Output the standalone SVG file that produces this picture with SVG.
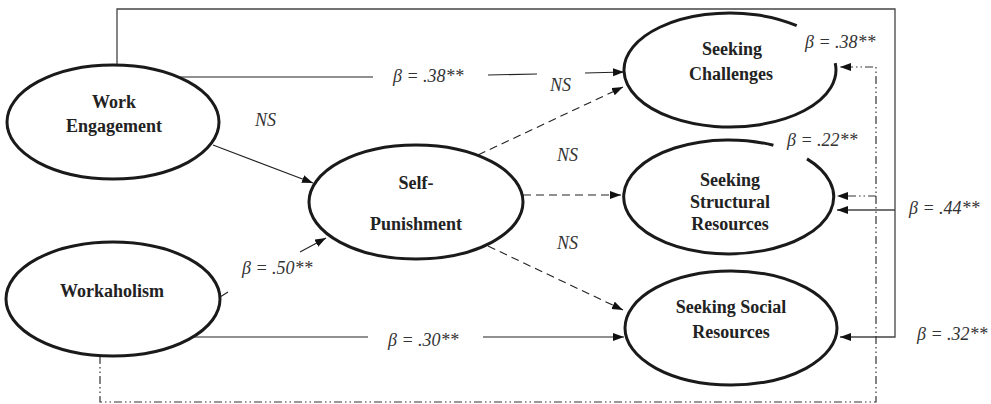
<svg xmlns="http://www.w3.org/2000/svg" width="991" height="404" viewBox="0 0 991 404">
<style>
.node{fill:none;stroke:#1a1a1a;stroke-width:3}
.nt{font-family:"Liberation Serif","Times New Roman",serif;font-weight:bold;font-size:18px;fill:#222;text-anchor:middle}
.lb{font-family:"Liberation Serif","Times New Roman",serif;font-style:italic;font-size:18px;fill:#333}
.ln{fill:none;stroke:#222;stroke-width:1.1}
.fr{fill:none;stroke:#444;stroke-width:1.3}
.da{fill:none;stroke:#222;stroke-width:1.1;stroke-dasharray:8 5}
.dd{fill:none;stroke:#333;stroke-width:1.2;stroke-dasharray:8 3 1.5 3 1.5 3}
</style>
<defs>
<marker id="ah" markerUnits="userSpaceOnUse" markerWidth="12" markerHeight="9" refX="11" refY="4" orient="auto">
<path d="M0,0 L11,4 L0,8 z" fill="#111"/>
</marker>
</defs>
<rect width="991" height="404" fill="#fff"/>
<g id="connectors">
<!-- Work Engagement to Seeking Challenges -->
<path class="ln" d="M180,77 L373,77"/>
<path class="ln" d="M488,75 L537,74"/>
<path class="ln" d="M585,73 L624,72" marker-end="url(#ah)"/>
<!-- Work Engagement to Self-Punishment -->
<path class="ln" d="M213,145 L313,183" marker-end="url(#ah)"/>
<!-- Workaholism to Self-Punishment -->
<path class="ln" d="M220,297 L228,292"/>
<path class="ln" d="M300,252 L326,238" marker-end="url(#ah)"/>
<!-- Workaholism to Seeking Social -->
<path class="ln" d="M193,337 L368,337"/>
<path class="ln" d="M483,337 L624,337" marker-end="url(#ah)"/>
<!-- Self-Punishment dashed -->
<path class="da" d="M478,155 L623,87" marker-end="url(#ah)"/>
<path class="da" d="M523,195 L621,195" marker-end="url(#ah)"/>
<path class="da" d="M488,246 L623,310" marker-end="url(#ah)"/>
<!-- frame line Work Engagement to Structural and Social -->
<path class="fr" d="M117,65 L117,9 L895,9 L895,337 L840,337" marker-end="url(#ah)"/>
<path class="fr" d="M895,210 L837,210" marker-end="url(#ah)"/>
<!-- dash-dot Workaholism to Challenges and Structural -->
<path class="dd" d="M100,356 L100,402 L876,402 L876,67 L840,67" marker-end="url(#ah)"/>
<path class="dd" d="M876,196 L837,196" marker-end="url(#ah)"/>
<text class="lb" x="393" y="82">β = .38**</text>
<text class="lb" x="550" y="91">NS</text>
<text class="lb" x="255" y="126">NS</text>
<text class="lb" x="557" y="161">NS</text>
<text class="lb" x="557" y="249">NS</text>
<text class="lb" x="242" y="274">β = .50**</text>
<text class="lb" x="388" y="346">β = .30**</text>
<text class="lb" x="805" y="48">β = .38**</text>
<text class="lb" x="787" y="146">β = .22**</text>
<text class="lb" x="909" y="214">β = .44**</text>
<text class="lb" x="917" y="340">β = .32**</text>
</g>
<g id="work-engagement">
<ellipse class="node" cx="113" cy="122" rx="106" ry="57"/>
<text class="nt" x="114" y="108">Work</text>
<text class="nt" x="114" y="132">Engagement</text>
</g>
<g id="workaholism">
<ellipse class="node" cx="113" cy="299" rx="107" ry="57"/>
<text class="nt" x="112" y="297">Workaholism</text>
</g>
<g id="self-punishment">
<ellipse class="node" cx="416" cy="202" rx="107" ry="57"/>
<text class="nt" x="416" y="189">Self-</text>
<text class="nt" x="416" y="230">Punishment</text>
</g>
<g id="seeking-challenges">
<path class="node" d="M835.2,63.1 A106,57 0 1 1 796.7,25.7"/>
<text class="nt" x="732" y="55">Seeking</text>
<text class="nt" x="731" y="80">Challenges</text>
</g>
<g id="seeking-structural-resources">
<path class="node" d="M807,158.9 A105,57 0 1 1 773.4,145.3"/>
<text class="nt" x="730" y="186">Seeking</text>
<text class="nt" x="730" y="208">Structural</text>
<text class="nt" x="730" y="230">Resources</text>
</g>
<g id="seeking-social-resources">
<ellipse class="node" cx="731" cy="328" rx="106" ry="57"/>
<text class="nt" x="731" y="313">Seeking Social</text>
<text class="nt" x="731" y="338">Resources</text>
</g>
</svg>
